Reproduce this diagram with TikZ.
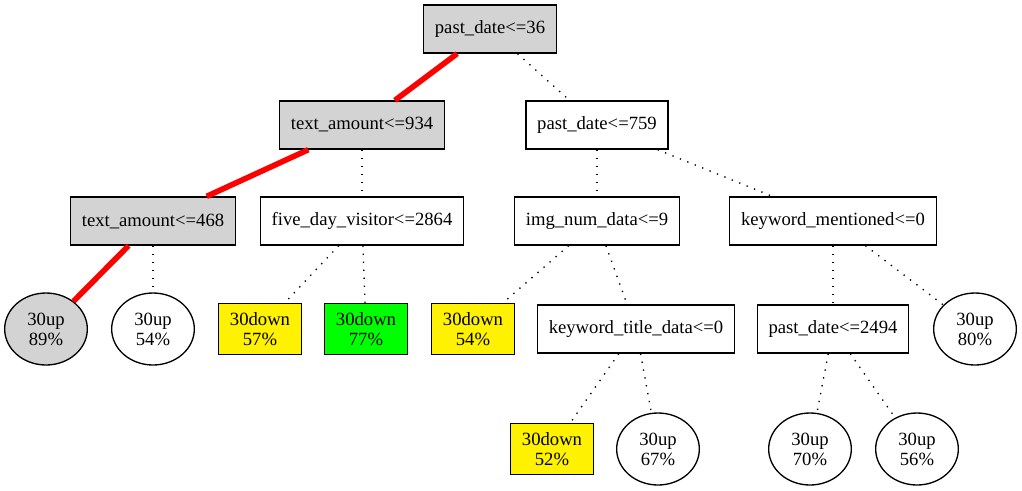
\documentclass[tikz,border=0pt]{standalone}
\usepackage{fontspec}
\setmainfont{Liberation Serif}
\usetikzlibrary{shapes.geometric}
\definecolor{nodegray}{HTML}{D3D3D3}
\begin{document}
\begin{tikzpicture}[x=0.75pt,y=-0.75pt,font=\fontsize{14}{15}\selectfont,
	cond/.style={draw,line width=1pt,rectangle,minimum height=36pt,inner xsep=8.5pt},
	leafdown/.style={draw,line width=1pt,rectangle,minimum width=62pt,minimum height=38pt,inner sep=0pt,align=center},
	leafup/.style={draw,line width=1pt,ellipse,minimum width=62pt,minimum height=54pt,inner sep=0pt,align=center},
	redpath/.style={red,line width=4.2pt},
	dotpath/.style={line width=1pt,dash pattern=on 1pt off 5pt}]
	\useasboundingbox (0,0) rectangle (1022,490);
	% decision nodes
	\node[cond,fill=nodegray] (r) at (490,29) {past\_date<=36};
	\node[cond,fill=nodegray] (ta1) at (362,125) {text\_amount<=934};
	\node[cond] (pd1) at (597,125) {past\_date<=759};
	\node[cond,fill=nodegray] (ta2) at (153,221) {text\_amount<=468};
	\node[cond] (fdv) at (362,221) {five\_day\_visitor<=2864};
	\node[cond] (img) at (597,221) {img\_num\_data<=9};
	\node[cond] (kwm) at (833,221) {keyword\_mentioned<=0};
	\node[cond] (ktd) at (636,329) {keyword\_title\_data<=0};
	\node[cond] (pd2) at (833,329) {past\_date<=2494};
	% leaves
	\node[leafup,fill=nodegray] (l1) at (46,329) {30up\\89\%};
	\node[leafup] (l2) at (153,329) {30up\\54\%};
	\node[leafdown,fill=yellow] (l3) at (260,329) {30down\\57\%};
	\node[leafdown,fill=green] (l4) at (366,329) {30down\\77\%};
	\node[leafdown,fill=yellow] (l5) at (473,329) {30down\\54\%};
	\node[leafup] (l6) at (975,329) {30up\\80\%};
	\node[leafdown,fill=yellow] (l7) at (552,449) {30down\\52\%};
	\node[leafup] (l8) at (658,449) {30up\\67\%};
	\node[leafup] (l9) at (810,449) {30up\\70\%};
	\node[leafup] (l10) at (917,449) {30up\\56\%};
	% edges
	\foreach \a/\b in {r/ta1,ta1/ta2,ta2/l1}
	\draw[redpath] (\a)--(\b);
	\foreach \a/\b in {r/pd1,ta1/fdv,ta2/l2,fdv/l3,fdv/l4,pd1/img,pd1/kwm,img/l5,img/ktd,kwm/pd2,kwm/l6,ktd/l7,ktd/l8,pd2/l9,pd2/l10}
	\draw[dotpath] (\a)--(\b);
\end{tikzpicture}
\end{document}
